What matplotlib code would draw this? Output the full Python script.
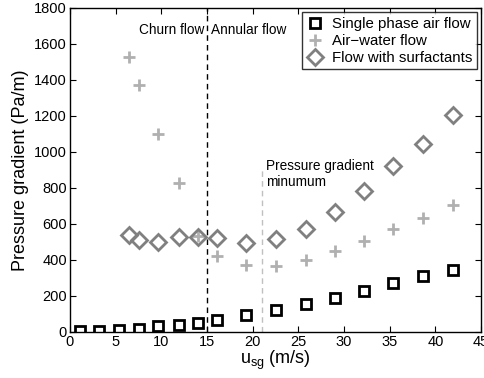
import matplotlib
matplotlib.use("Agg")
import matplotlib.pyplot as plt

plt.rcParams['font.family'] = ['Liberation Sans', 'DejaVu Sans']

x_air = [1.1, 3.2, 5.4, 7.6, 9.7, 11.9, 14.0, 16.1, 19.3, 22.6, 25.8, 29.0, 32.2, 35.4, 38.6, 41.9]
y_air = [4, 7, 11, 18, 30, 41, 52, 67, 93, 122, 156, 191, 228, 269, 313, 346]

x_aw = [6.5, 7.55, 9.7, 11.9, 14.0, 16.1, 19.3, 22.6, 25.8, 29.0, 32.2, 35.4, 38.6, 41.9]
y_aw = [1528, 1374, 1100, 826, 530, 424, 374, 365, 398, 448, 506, 570, 635, 704]

x_surf = [6.5, 7.55, 9.7, 11.9, 14.0, 16.1, 19.3, 22.6, 25.8, 29.0, 32.2, 35.4, 38.6, 41.9]
y_surf = [537, 511, 500, 526, 528, 519, 496, 517, 572, 665, 781, 920, 1046, 1204]

labels = ['Single phase air flow', 'Air\u2212water flow', 'Flow with surfactants']
x_churn = 15
x_min = 21

fig = plt.figure(figsize=(4.85, 3.78), dpi=100)
ax = fig.add_axes([0.144, 0.122, 0.848, 0.857])

ax.plot(x_air, y_air, ls='none', marker='s', ms=6.5, mfc='white', mec='black', mew=2, label=labels[0])
ax.plot(x_aw, y_aw, ls='none', marker='+', ms=8, mec='#b0b0b0', mew=2, label=labels[1])
ax.plot(x_surf, y_surf, ls='none', marker='D', ms=8, mfc='none', mec='#808080', mew=2, label=labels[2])

ax.axvline(x_churn, color='black', ls=(0, (4, 3)), lw=1)
ax.plot([x_min, x_min], [0, 900], color='#c0c0c0', ls=(0, (4, 3)), lw=1)

ax.text(14.7, 1680, 'Churn flow', ha='right', va='center', fontsize=9.8)
ax.text(15.4, 1680, 'Annular flow', ha='left', va='center', fontsize=9.8)
ax.text(21.5, 960, 'Pressure gradient\nminumum', ha='left', va='top', fontsize=9.8, linespacing=1.2)

ax.set_xlim(0, 45)
ax.set_ylim(0, 1800)
ax.set_xticks(range(0, 46, 5))
ax.set_yticks(range(0, 1801, 200))
ax.tick_params(direction='in', top=True, right=True, labelsize=10.5, length=4, pad=2)
for s in ax.spines.values():
    s.set_linewidth(1)
ax.set_xlabel(r'u$_{\mathregular{sg}}$ (m/s)', fontsize=13, labelpad=0)
ax.set_ylabel('Pressure gradient (Pa/m)', fontsize=13, labelpad=4)

leg = ax.legend(loc='upper right', fontsize=10.8, frameon=True, fancybox=False,
                edgecolor='black', borderaxespad=0.3, handletextpad=0.5,
                borderpad=0.3, labelspacing=0.2, handlelength=1.2)
leg.get_frame().set_linewidth(1)

fig.savefig('out.png', dpi=100)
